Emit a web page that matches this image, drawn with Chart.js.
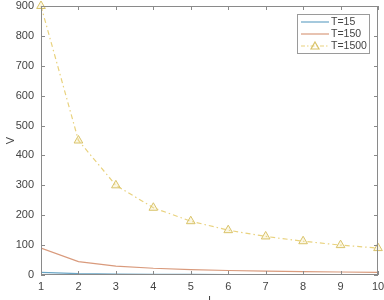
<!DOCTYPE html>
<html>
<head>
<meta charset="utf-8">
<script src="https://cdn.jsdelivr.net/npm/chart.js@4/dist/chart.umd.min.js"></script>
<style>
html,body{margin:0;padding:0;background:#fff;}
#wrap{width:384px;height:300px;}
</style>
</head>
<body>
<div id="wrap"><canvas id="vChart"></canvas></div>
<script>
// values
const currents = [1, 2, 3, 4, 5, 6, 7, 8, 9, 10];
const vT15 = [9, 4.5, 3, 2.25, 1.8, 1.5, 1.29, 1.13, 1, 0.9];
const vT150 = [90, 45, 30, 22.5, 18, 15, 12.9, 11.3, 10, 9];
const vT1500 = [900, 450, 300, 225, 180, 150, 129, 113, 100, 90];
const yTicks = [0, 100, 200, 300, 400, 500, 600, 700, 800, 900];
const seriesNames = ["T=15", "T=150", "T=1500"];

const colors = ["#6aa6c6", "#d99a7c", "#e9d27e"];
const axisColor = "#8a8a8a";
const textColor = "#444";
const fontFam = "'Liberation Sans', Arial, sans-serif";

function pts(vals){
  return currents.map((x, i) => ({x: x, y: vals[i]}));
}

// box around the plot + inward ticks, MATLAB style
const boxPlugin = {
  id: "box",
  afterDatasetsDraw(chart){
    const c = chart.ctx, a = chart.chartArea;
    const xs = chart.scales.x, ys = chart.scales.y;
    c.save();
    c.strokeStyle = axisColor;
    c.lineWidth = 1;
    c.strokeRect(a.left + 0.5, a.top + 0.5, a.right - a.left - 1, a.bottom - a.top - 1);
    c.beginPath();
    currents.forEach(v => {
      const px = Math.round(xs.getPixelForValue(v)) + 0.5;
      c.moveTo(px, a.bottom); c.lineTo(px, a.bottom - 4);
      c.moveTo(px, a.top); c.lineTo(px, a.top + 4);
    });
    yTicks.forEach(v => {
      const py = Math.round(ys.getPixelForValue(v)) + 0.5;
      c.moveTo(a.left, py); c.lineTo(a.left + 4, py);
      c.moveTo(a.right, py); c.lineTo(a.right - 4, py);
    });
    c.stroke();
    c.restore();
  }
};

// legend box in the top right corner
const legendPlugin = {
  id: "boxLegend",
  afterDraw(chart){
    const c = chart.ctx, a = chart.chartArea;
    const w = 72, h = 39;
    const x0 = a.right - w - 9, y0 = a.top + 8;
    c.save();
    c.fillStyle = "#fff";
    c.fillRect(x0, y0, w, h);
    c.strokeStyle = "#9a9a9a";
    c.lineWidth = 1;
    c.strokeRect(x0 + 0.5, y0 + 0.5, w, h);
    c.font = "10.5px " + fontFam;
    c.textBaseline = "middle";
    seriesNames.forEach((name, i) => {
      const ly = y0 + 8 + i * 12;
      c.strokeStyle = colors[i];
      c.lineWidth = 1.2;
      c.setLineDash(i === 2 ? [4, 2, 1.5, 2] : []);
      c.beginPath();
      c.moveTo(x0 + 4, ly); c.lineTo(x0 + 32, ly);
      c.stroke();
      c.setLineDash([]);
      if (i === 2) {
        c.strokeStyle = "#d9c36a";
        c.beginPath();
        c.moveTo(x0 + 18, ly - 4); c.lineTo(x0 + 22, ly + 3); c.lineTo(x0 + 14, ly + 3); c.closePath();
        c.stroke();
      }
      c.fillStyle = textColor;
      c.fillText(name, x0 + 34, ly);
    });
    c.restore();
  }
};

new Chart(document.getElementById("vChart"), {
  type: "line",
  data: {
    datasets: [
      {label: seriesNames[0], data: pts(vT15), borderColor: colors[0], borderWidth: 1.2, pointRadius: 0, fill: false},
      {label: seriesNames[1], data: pts(vT150), borderColor: colors[1], borderWidth: 1.2, pointRadius: 0, fill: false},
      {label: seriesNames[2], data: pts(vT1500), borderColor: colors[2], borderWidth: 1.2, borderDash: [5, 3, 1.5, 3],
       pointStyle: "triangle", pointRadius: 5, pointBorderColor: "#d9c36a", pointBackgroundColor: "rgba(240,225,150,0.25)", pointBorderWidth: 1, fill: false, clip: false}
    ]
  },
  options: {
    responsive: true,
    maintainAspectRatio: false,
    animation: false,
    layout: {padding: {top: 5, right: 2, left: 0, bottom: 0}},
    plugins: {legend: {display: false}, tooltip: {enabled: false}},
    scales: {
      x: {
        type: "linear", min: 1, max: 10,
        afterBuildTicks: s => { s.ticks = currents.map(v => ({value: v})); },
        afterFit: s => { s.height = 25; s.paddingRight = 0; s.paddingLeft = 0; },
        grid: {display: false, drawTicks: false},
        border: {display: false},
        ticks: {color: textColor, padding: 5, maxRotation: 0, font: {size: 11, family: fontFam}},
        title: {display: true, text: "I", color: textColor, padding: {top: 0, bottom: -8}, font: {size: 11, family: fontFam}}
      },
      y: {
        min: 0, max: 900,
        afterBuildTicks: s => { s.ticks = yTicks.map(v => ({value: v})); },
        afterFit: s => { s.width = 41; s.paddingTop = 0; s.paddingBottom = 0; },
        grid: {display: false, drawTicks: false},
        border: {display: false},
        ticks: {color: textColor, padding: 7, font: {size: 11, family: fontFam}},
        title: {display: true, text: "V", color: textColor, padding: {top: 4, bottom: 0}, font: {size: 11, family: fontFam}}
      }
    }
  },
  plugins: [boxPlugin, legendPlugin]
});
</script>
</body>
</html>
